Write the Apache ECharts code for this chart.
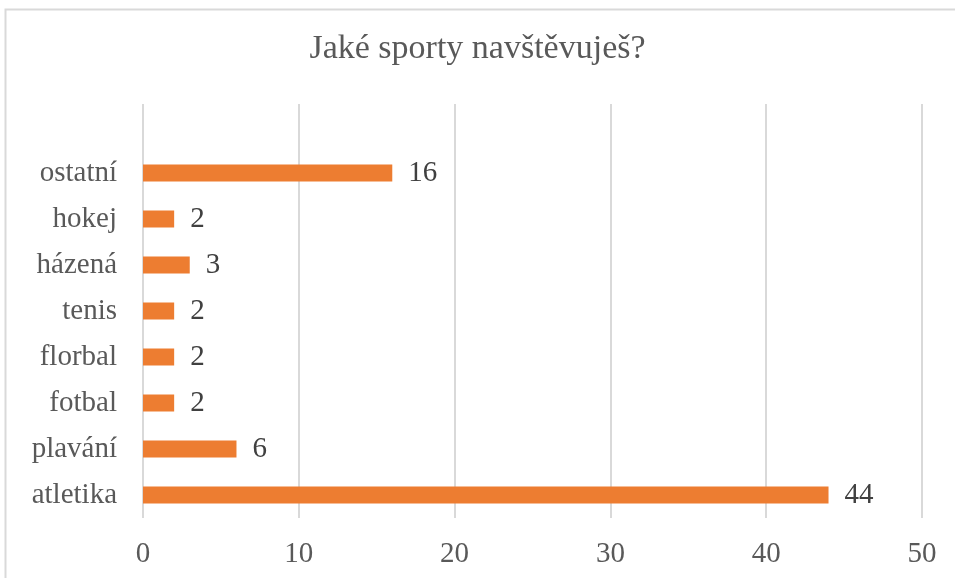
<!DOCTYPE html>
<html>
<head>
<meta charset="utf-8">
<script src="https://cdn.jsdelivr.net/npm/echarts@6/dist/echarts.min.js"></script>
<style>
  html, body { margin: 0; padding: 0; background: #fff; }
  #main { width: 955px; height: 578px; }
</style>
</head>
<body>
<div id="main"></div>
<script>
// bottom to top, last one is Excel's empty slot above "ostatní"
var categories = ['atletika', 'plavání', 'fotbal', 'florbal', 'tenis', 'házená', 'hokej', 'ostatní', ''];
var counts = [44, 6, 2, 2, 2, 3, 2, 16, null];
var xTicks = [0, 10, 20, 30, 40, 50];

var font = '"Liberation Serif", "Times New Roman", serif';

var chart = echarts.init(document.getElementById('main'));

var option = {
  animation: false,
  backgroundColor: '#fff',
  title: {
    text: 'Jaké sporty navštěvuješ?',
    left: 'center',
    top: 27,
    textStyle: { fontFamily: font, fontSize: 34, fontWeight: 'normal', color: '#595959' }
  },
  graphic: [{
    type: 'rect',
    shape: { x: 5.5, y: 9.5, width: 1000, height: 1000 },
    style: { fill: null, stroke: '#d9d9d9', lineWidth: 2 },
    silent: true
  }],
  grid: { left: 143, right: 33, top: 104, bottom: 60 },
  xAxis: {
    type: 'value',
    min: xTicks[0],
    max: xTicks[xTicks.length - 1],
    interval: 10,
    axisLine: { show: false },
    axisTick: { show: false },
    axisLabel: { fontFamily: font, fontSize: 29, color: '#595959', margin: 22 },
    splitLine: { lineStyle: { color: '#d9d9d9', width: 2 } }
  },
  yAxis: {
    type: 'category',
    data: categories,
    axisLine: { show: false },
    axisTick: { show: false },
    axisLabel: { fontFamily: font, fontSize: 29, color: '#595959', margin: 26 }
  },
  series: [{
    type: 'bar',
    data: counts,
    barWidth: 17,
    itemStyle: { color: '#ED7D31' },
    label: {
      show: true,
      position: 'right',
      distance: 16,
      fontFamily: font,
      fontSize: 29,
      color: '#404040'
    }
  }]
};

chart.setOption(option);
</script>
</body>
</html>
